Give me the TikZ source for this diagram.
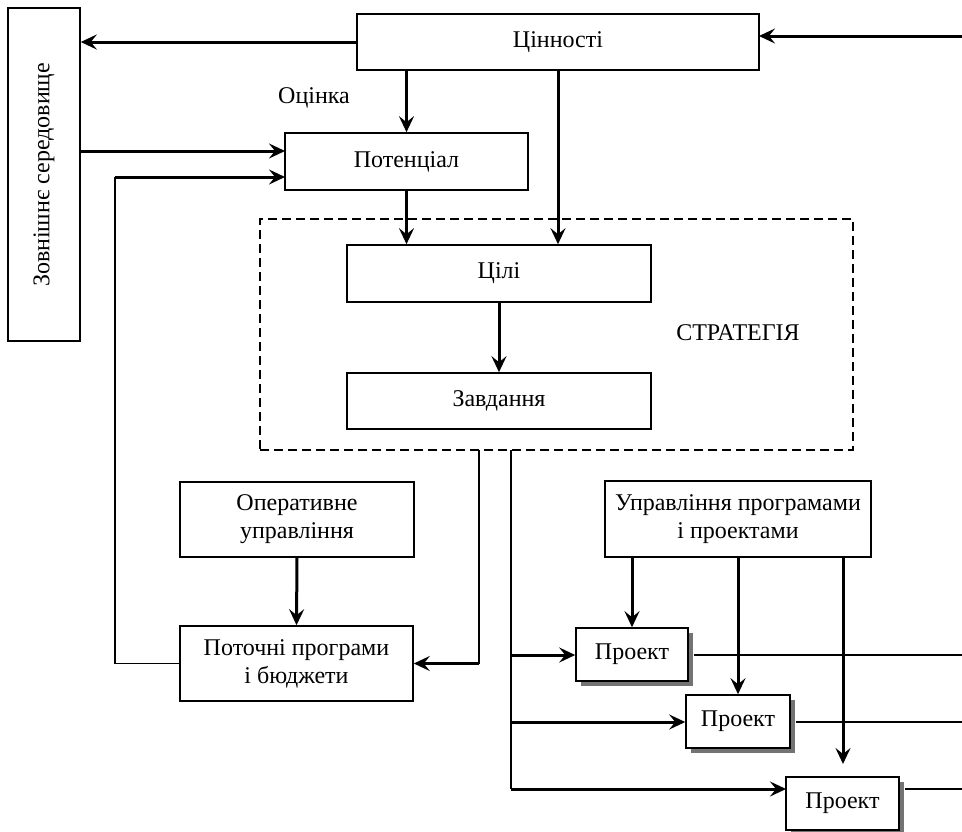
\documentclass[tikz,border=0pt]{standalone}
\usepackage{fontspec}
\setmainfont{Liberation Serif}
\usetikzlibrary{arrows.meta,shadows}
\begin{document}
\begin{tikzpicture}[x=1pt,y=-1pt,
  font=\fontsize{24}{28}\selectfont,
  box/.style={draw, line width=1.6pt, rectangle, inner sep=0pt, align=center, fill=white},
  pbox/.style={box, drop shadow={shadow xshift=5pt, shadow yshift=-5pt, fill=black!55, opacity=1}},
  arr/.style={line width=3pt, -{Stealth[length=16pt,width=15pt,inset=6pt]}},
  thinline/.style={line width=1.6pt}]
\useasboundingbox (0,0) rectangle (962,831);
% nodes
\node[box, minimum width=72pt, minimum height=333pt] (env) at (44,174.5) {};
\node[rotate=90] (envt) at (44,175) {Зовнішнє середовище};
\node[box, minimum width=402pt, minimum height=56pt] (val) at (558,42) {Цінності};
\node[box, minimum width=243pt, minimum height=57pt] (pot) at (406.5,161.5) {Потенціал};
\node (est) at (314,98) {Оцінка};
\node[draw, dash pattern=on 9pt off 5pt, line width=2.2pt, minimum width=593pt, minimum height=231pt, inner sep=0pt] (strat) at (556.5,334.5) {};
\node[box, minimum width=304pt, minimum height=57pt] (goal) at (499,273.5) {Цілі};
\node[box, minimum width=304pt, minimum height=56pt] (task) at (499,401) {Завдання};
\node (stl) at (738,333) {СТРАТЕГІЯ};
\node[box, minimum width=234pt, minimum height=75pt] (oper) at (297,519.5) {Оперативне\\управління};
\node[box, minimum width=233pt, minimum height=75pt] (cur) at (296.5,663.5) {Поточні програми\\і бюджети};
\node[box, minimum width=266pt, minimum height=76pt] (mgmt) at (738,519) {Управління програмами\\і проектами};
\node[pbox, minimum width=112pt, minimum height=53pt] (p1) at (632,654.5) {Проект};
\node[pbox, minimum width=104pt, minimum height=53pt] (p2) at (738,721.5) {Проект};
\node[pbox, minimum width=113pt, minimum height=53pt] (p3) at (842.5,803.5) {Проект};
% coordinates
\coordinate (rin) at (962,36);
\coordinate (vin) at (759,36);
\coordinate (pa) at (285,151);
\coordinate (pb) at (285,177);
\coordinate (fb) at (115,177);
\coordinate (s1) at (479,450);
\coordinate (s2) at (511,450);
\coordinate (p3in) at (786,789);
\coordinate (p3end) at (843,764);
\coordinate (o1) at (962,655);
\coordinate (o2) at (962,722);
\coordinate (o3) at (962,789);
% connectors
\draw[arr] (val.west) -- (val.west -| env.east);
\draw[arr] (rin) -- (vin);
\draw[arr] (val.south -| pot.north) -- (pot.north);
\draw[arr] (val.south) -- (val.south |- goal.north);
\draw[arr] (pa -| env.east) -- (pa);
\draw[thinline] (cur.west) -| (fb);
\draw[arr] (fb) -- (pb);
\draw[arr] (pot.south) -- (pot.south |- goal.north);
\draw[arr] (goal.south) -- (task.north);
\draw[arr] (oper.south) -- (cur.north);
\draw[thinline] (s1) -- (s1 |- cur.east);
\draw[arr] (s1 |- cur.east) -- (cur.east);
\draw[thinline] (s2) -- (s2 |- p3in);
\draw[arr] (s2 |- o1) -- (p1.west |- o1);
\draw[arr] (s2 |- o2) -- (p2.west |- o2);
\draw[arr] (s2 |- p3in) -- (p3in);
\draw[arr] (mgmt.south -| p1.north) -- (p1.north);
\draw[arr] (mgmt.south -| p2.north) -- (p2.north);
\draw[arr] (mgmt.south -| p3end) -- (p3end);
\draw[thinline] ([xshift=5pt]p1.east |- o1) -- (o1);
\draw[thinline] ([xshift=5pt]p2.east |- o2) -- (o2);
\draw[thinline] ([xshift=5pt]p3.east |- o3) -- (o3);
\end{tikzpicture}
\end{document}
